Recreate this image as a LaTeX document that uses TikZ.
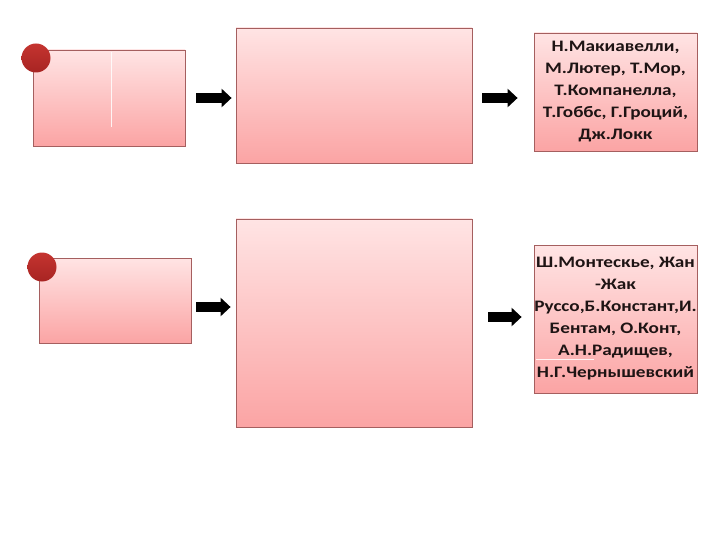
\documentclass[tikz,border=0pt]{standalone}
\usepackage{fontspec}
\setmainfont{Carlito}
\newfontfamily\namefont[FakeStretch=1.2]{Carlito}
\usetikzlibrary{arrows.meta}

\definecolor{pinktop}{RGB}{255,228,228}
\definecolor{pinkbot}{RGB}{251,164,164}
\definecolor{boxline}{RGB}{165,95,95}
\definecolor{dotred}{RGB}{196,52,48}
\definecolor{dotdark}{RGB}{168,36,34}
\definecolor{inktext}{RGB}{30,20,20}

\tikzset{
	pinkbox/.style={draw=boxline, line width=0.8pt, top color=pinktop, bottom color=pinkbot, inner sep=0pt},
	namebox/.style={pinkbox, align=center, text=inktext, font=\namefont\fontsize{16}{22}\selectfont\bfseries},
	reddot/.style={circle, inner sep=0pt, minimum size=29pt, top color=dotred, bottom color=dotdark},
	blockarrow/.style={line width=10pt, -{Triangle[length=10pt,width=18pt]}},
	flaw/.style={white, line width=1pt, opacity=0.85},
}

\begin{document}
\begin{tikzpicture}[x=1pt,y=-1pt]
	\useasboundingbox (0,0) rectangle (720,540);
	\path
		(109,  98)   node[pinkbox, minimum width=152pt, minimum height=96pt]  (a1) {}
		(354,  95.5) node[pinkbox, minimum width=236pt, minimum height=135pt] (b1) {}
		(615.5,92)   node[namebox, minimum width=163pt, minimum height=118pt] (c1)
			{Н.Макиавелли,\\М.Лютер, Т.Мор,\\Т.Компанелла,\\Т.Гоббс, Г.Гроций,\\Дж.Локк}
		(115, 300.5) node[pinkbox, minimum width=152pt, minimum height=85pt]  (a2) {}
		(354, 323)   node[pinkbox, minimum width=236pt, minimum height=208pt] (b2) {}
		(615.5,319)  node[namebox, minimum width=163pt, minimum height=148pt] (c2)
			{Ш.Монтескье, Жан\\-Жак\\Руссо,Б.Констант,И.\\Бентам, О.Конт,\\А.Н.Радищев,\\Н.Г.Чернышевский}
		( 36,  58)   node[reddot] (dot1) {}
		( 42, 267)   node[reddot] (dot2) {}
	;
	% stray light strokes
	\draw[flaw] ([xshift=2pt,yshift=-2pt]a1.north) -- ([xshift=2pt,yshift=-77pt]a1.north);
	\draw[flaw] ([xshift=2pt,yshift=34pt]c2.south west) -- ([xshift=60pt,yshift=34pt]c2.south west);
	% arrows
	\coordinate (r2) at ([yshift=-6.5pt]a2.east);
	\draw[blockarrow, shorten <=11pt, shorten >=4pt]  (a1.east)        -- (a1.east -| b1.west);
	\draw[blockarrow, shorten <=10pt, shorten >=16pt] (b1.east |- a1.east) -- (c1.west |- a1.east);
	\draw[blockarrow, shorten <=5pt,  shorten >=5pt]  (r2)             -- (r2 -| b2.west);
	\draw[blockarrow, shorten <=16pt, shorten >=12pt] ([yshift=2pt]b2.east |- c2.west) -- ([yshift=2pt]c2.west);
\end{tikzpicture}
\end{document}
